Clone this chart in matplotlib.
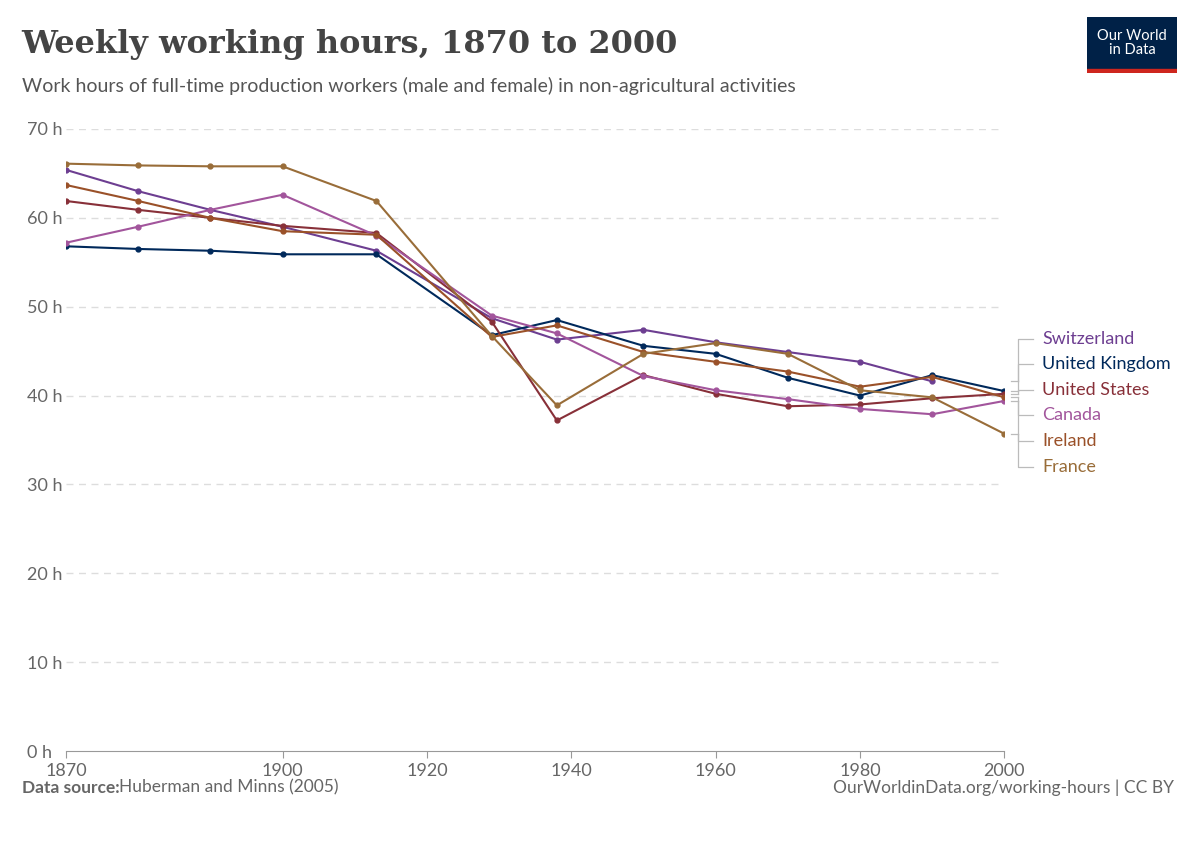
import matplotlib
matplotlib.use("Agg")
import matplotlib.pyplot as plt
import matplotlib.transforms as mtrans

years = [1870, 1880, 1890, 1900, 1913, 1929, 1938, 1950, 1960, 1970, 1980, 1990, 2000]
switzerland = [65.4, 63.0, 60.9, 59.0, 56.3, 48.7, 46.3, 47.4, 46.0, 44.9, 43.8, 41.6, None]
uk = [56.8, 56.5, 56.3, 55.9, 55.9, 46.8, 48.5, 45.6, 44.7, 42.0, 40.0, 42.3, 40.5]
us = [61.9, 60.9, 60.0, 59.1, 58.3, 48.3, 37.2, 42.3, 40.2, 38.8, 39.0, 39.7, 40.2]
canada = [57.2, 59.0, 60.9, 62.6, 58.0, 49.0, 47.0, 42.2, 40.6, 39.6, 38.5, 37.9, 39.4]
ireland = [63.7, 61.9, 60.0, 58.5, 58.1, 46.6, 47.9, 44.9, 43.8, 42.7, 41.0, 42.1, 39.8]
france = [66.1, 65.9, 65.8, 65.8, 61.9, 46.7, 38.9, 44.7, 45.9, 44.7, 40.6, 39.8, 35.7]

names = ["Switzerland", "United Kingdom", "United States", "Canada", "Ireland", "France"]
series = [switzerland, uk, us, canada, ireland, france]
colors = ["#6d3e91", "#00295b", "#883039", "#a2559c", "#9a5129", "#996d39"]
label_y = [46.4, 43.5, 40.6, 37.8, 34.9, 32.0]

fig = plt.figure(figsize=(12, 8.47), dpi=100)
ax = fig.add_axes([0.055, 0.1133, 0.782, 0.7344])
for name, vals, c in zip(names, series, colors):
    xs = [x for x, v in zip(years, vals) if v is not None]
    ys = [v for v in vals if v is not None]
    ax.plot(xs, ys, color=c, lw=1.5, marker="o", ms=3.5, zorder=3)

ax.set_xlim(1870, 2000)
ax.set_ylim(0, 70)
ax.set_yticks(range(0, 71, 10))
ax.set_yticklabels([f"{v} h" for v in range(0, 71, 10)], fontsize=13, color="#666666", family="Lato")
ax.set_xticks([1870, 1900, 1920, 1940, 1960, 1980, 2000])
ax.set_xticklabels(["1870", "1900", "1920", "1940", "1960", "1980", "2000"], fontsize=13, color="#666666", family="Lato")
ax.tick_params(axis="y", length=0)
ax.tick_params(axis="x", length=5, color="#999999")
for y in range(10, 71, 10):
    ax.axhline(y, color="#dddddd", lw=1, ls=(0, (5, 4)), zorder=1)
for s in ["top", "right", "left"]:
    ax.spines[s].set_visible(False)
ax.spines["bottom"].set_color("#999999")
for lbl in ax.get_yticklabels():
    lbl.set_horizontalalignment("left")
ax.yaxis.set_tick_params(pad=28)

trans = mtrans.blended_transform_factory(ax.transAxes, ax.transData)
for name, vals, c, ly in zip(names, series, colors, label_y):
    last = [v for v in vals if v is not None][-1]
    ax.plot([1.007, 1.015], [last, last], transform=trans, color="#bbbbbb", lw=0.9, clip_on=False)
    ax.plot([1.015, 1.015, 1.03], [last, ly, ly], transform=trans,
            color="#bbbbbb", lw=0.9, clip_on=False)
    ax.text(1.04, ly, name, transform=trans, color=c, fontsize=13, family="Lato",
            va="center", ha="left")

fig.text(0.018, 0.947, "Weekly working hours, 1870 to 2000", fontsize=23, family="DejaVu Serif",
         weight="bold", color="#444444", va="center")
fig.text(0.018, 0.898, "Work hours of full-time production workers (male and female) in non-agricultural activities",
         fontsize=14, family="Lato", color="#555555", va="center")
fig.text(0.018, 0.07, "Data source:", fontsize=12.5, family="Lato", weight="bold", color="#666666", va="center")
fig.text(0.099, 0.07, "Huberman and Minns (2005)", fontsize=12.5, family="Lato", color="#666666", va="center")
fig.text(0.978, 0.07, "OurWorldinData.org/working-hours | CC BY", fontsize=12.5, family="Lato",
         color="#666666", va="center", ha="right")

logo = fig.add_axes([0.906, 0.914, 0.075, 0.066])
logo.set_xlim(0, 1); logo.set_ylim(0, 1); logo.axis("off")
logo.add_patch(plt.Rectangle((0, 0.07), 1, 0.93, color="#002147"))
logo.add_patch(plt.Rectangle((0, 0), 1, 0.07, color="#ce261e"))
logo.text(0.5, 0.54, "Our World\nin Data", color="white", fontsize=10.5, family="Lato",
          ha="center", va="center", linespacing=1.0)

fig.savefig("out.png", dpi=100)
